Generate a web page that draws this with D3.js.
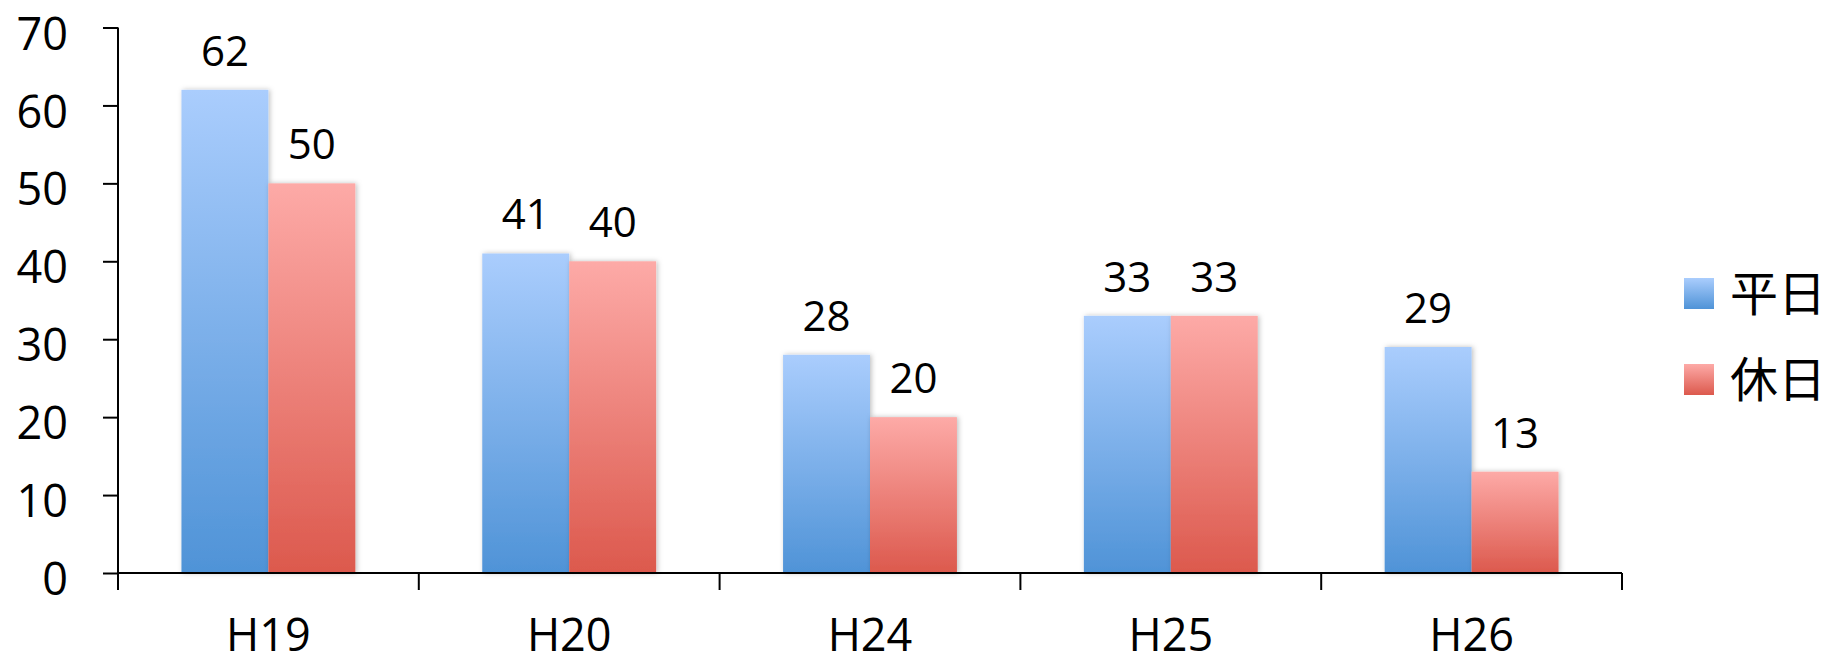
<!DOCTYPE html>
<html>
<head>
<meta charset="utf-8">
<script src="https://cdn.jsdelivr.net/npm/d3@7"></script>
<style>
  html, body { margin: 0; padding: 0; background: #fff; }
  svg { display: block; }
  text { font-family: "Open Sans", "Noto Sans CJK JP", sans-serif; fill: #000; }
</style>
</head>
<body>
<svg id="chart" width="1829" height="663"></svg>
<script>
// data
const categories = ["H19", "H20", "H24", "H25", "H26"];
const seriesNames = ["平日", "休日"];
const weekday = [62, 41, 28, 33, 29];
const holiday = [50, 40, 20, 33, 13];
const yTicks = [0, 10, 20, 30, 40, 50, 60, 70];

const svg = d3.select("#chart");
const defs = svg.append("defs");

// gradients for the two series
const grads = [
  { id: "gBlue", top: "#aacdfd", bottom: "#4f93d7" },
  { id: "gRed", top: "#fdaaa7", bottom: "#dc594d" }
];
grads.forEach(g => {
  const lg = defs.append("linearGradient")
    .attr("id", g.id).attr("x1", 0).attr("y1", 0).attr("x2", 0).attr("y2", 1);
  lg.append("stop").attr("offset", "0%").attr("stop-color", g.top);
  lg.append("stop").attr("offset", "100%").attr("stop-color", g.bottom);
});

const shadow = defs.append("filter").attr("id", "shadow")
  .attr("x", "-20%").attr("y", "-5%").attr("width", "140%").attr("height", "110%");
shadow.append("feDropShadow")
  .attr("dx", 1.5).attr("dy", 0).attr("stdDeviation", 2.5)
  .attr("flood-color", "#000").attr("flood-opacity", 0.25);

// scales
const x = d3.scaleBand().domain(categories).range([118, 1622]);
const xs = d3.scaleBand().domain(seriesNames).range([0, x.bandwidth()]).paddingOuter(0.73);
const y = d3.scaleLinear().domain([0, 70]).range([573, 27.5]);

const rows = categories.map((c, i) => ({ cat: c, vals: [weekday[i], holiday[i]] }));

// bars
const groups = svg.append("g").selectAll("g")
  .data(rows).join("g")
  .attr("transform", d => `translate(${x(d.cat)},0)`);

groups.selectAll("rect")
  .data(d => d.vals.map((v, j) => ({ name: seriesNames[j], v, j })))
  .join("rect")
  .attr("x", d => xs(d.name))
  .attr("y", d => y(d.v))
  .attr("width", xs.bandwidth())
  .attr("height", d => y(0) - y(d.v))
  .attr("fill", d => `url(#${grads[d.j].id})`)
  .attr("filter", "url(#shadow)");

// value labels
groups.selectAll("text.val")
  .data(d => d.vals.map((v, j) => ({ name: seriesNames[j], v })))
  .join("text")
  .attr("class", "val")
  .attr("x", d => xs(d.name) + xs.bandwidth() / 2)
  .attr("y", d => y(d.v) - 24)
  .attr("text-anchor", "middle")
  .style("font-size", "42px")
  .text(d => d.v);

// y axis
const yAxis = svg.append("g")
  .attr("transform", "translate(118,0)")
  .call(d3.axisLeft(y).tickValues(yTicks).tickSize(15).tickPadding(35));
yAxis.select(".domain").remove();
yAxis.selectAll("line").attr("stroke", "#000").attr("stroke-width", 2);
yAxis.selectAll("text").style("font-size", "45px").attr("dy", "0.48em");
svg.append("line")
  .attr("x1", 118).attr("x2", 118).attr("y1", y(70)).attr("y2", y(0) + 17)
  .attr("stroke", "#000").attr("stroke-width", 2);

// x axis: line, boundary ticks and category labels
svg.append("line")
  .attr("x1", 118).attr("x2", 1622).attr("y1", y(0)).attr("y2", y(0))
  .attr("stroke", "#000").attr("stroke-width", 2);
const bounds = categories.map(c => x(c)).concat([x.range()[1]]);
svg.append("g").selectAll("line")
  .data(bounds.slice(1)).join("line")
  .attr("x1", d => d).attr("x2", d => d)
  .attr("y1", y(0)).attr("y2", y(0) + 17)
  .attr("stroke", "#000").attr("stroke-width", 2);
svg.append("g").selectAll("text")
  .data(categories).join("text")
  .attr("x", d => x(d) + x.bandwidth() / 2)
  .attr("y", 651)
  .attr("text-anchor", "middle")
  .style("font-size", "45px")
  .text(d => d);

// legend
const legend = svg.append("g").selectAll("g")
  .data(seriesNames).join("g")
  .attr("transform", (d, i) => `translate(1684,${278 + i * 86})`);
legend.append("rect")
  .attr("width", 30).attr("height", 31)
  .attr("fill", (d, i) => `url(#${grads[i].id})`);
legend.append("text")
  .attr("x", 46).attr("y", 15.5).attr("dy", "0.36em")
  .style("font-family", "'Noto Sans CJK JP', sans-serif")
  .style("font-size", "48px")
  .text(d => d);
</script>
</body>
</html>
